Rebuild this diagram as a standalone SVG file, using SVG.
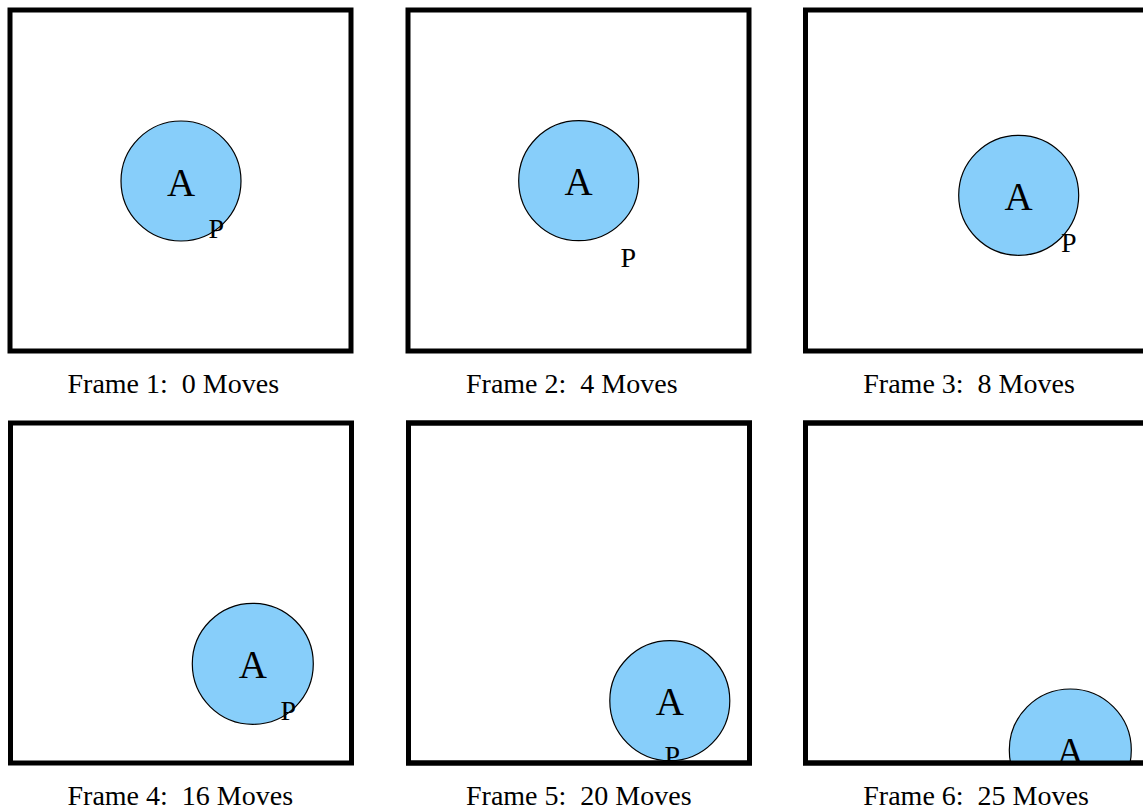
<svg xmlns="http://www.w3.org/2000/svg" width="1143" height="810" viewBox="0 0 1143 810">
<style>
.frame{fill:#fff;stroke:#000;stroke-width:5}
.ball{fill:#87cefa;stroke:#000;stroke-width:1.2}
.a{font-family:"Liberation Serif","Times New Roman",serif;font-size:39px;fill:#000;text-anchor:middle}
.p{font-family:"Liberation Serif","Times New Roman",serif;font-size:28px;fill:#000}
.lbl{font-family:"Liberation Serif","Times New Roman",serif;font-size:28px;fill:#000;white-space:pre}
</style>
<defs>
<clipPath id="c5"><rect x="408" y="423" width="341" height="340"/></clipPath>
<clipPath id="c6"><rect x="805" y="423" width="341" height="340"/></clipPath>
</defs>
<rect width="1143" height="810" fill="#fff"/>
<g id="frame1">
<rect class="frame" x="10" y="10" width="341" height="341"/>
<circle class="ball" cx="181" cy="181" r="60"/>
<text class="a" x="181" y="195.5">A</text>
<text class="p" x="208.5" y="238">P</text>
<text class="lbl" x="67.5" y="393" xml:space="preserve">Frame 1:  0 Moves</text>
</g>
<g id="frame2">
<rect class="frame" x="408" y="10" width="341" height="341"/>
<circle class="ball" cx="578.7" cy="180.7" r="60"/>
<text class="a" x="578.7" y="195.2">A</text>
<text class="p" x="620.5" y="266.5">P</text>
<text class="lbl" x="466" y="393" xml:space="preserve">Frame 2:  4 Moves</text>
</g>
<g id="frame3">
<rect class="frame" x="805.5" y="10" width="341" height="341"/>
<circle class="ball" cx="1018.7" cy="195.3" r="60"/>
<text class="a" x="1018.7" y="209.8">A</text>
<text class="p" x="1061" y="252">P</text>
<text class="lbl" x="863.3" y="393" xml:space="preserve">Frame 3:  8 Moves</text>
</g>
<g id="frame4">
<rect class="frame" x="10.5" y="423" width="341" height="340"/>
<circle class="ball" cx="252.8" cy="663.8" r="60.5"/>
<text class="a" x="252.8" y="678.3">A</text>
<text class="p" x="280.5" y="720">P</text>
<text class="lbl" x="67.5" y="805" xml:space="preserve">Frame 4:  16 Moves</text>
</g>
<g id="frame5">
<rect class="frame" x="408.5" y="423" width="341" height="340"/>
<g clip-path="url(#c5)">
<circle class="ball" cx="669.8" cy="700.7" r="60"/>
<text class="a" x="669.8" y="715.2">A</text>
<text class="p" x="664.5" y="764.5">P</text>
</g>
<rect x="408.5" y="423" width="341" height="340" fill="none" stroke="#000" stroke-width="5"/>
<text class="lbl" x="466" y="805" xml:space="preserve">Frame 5:  20 Moves</text>
</g>
<g id="frame6">
<rect class="frame" x="805.5" y="423" width="341" height="340"/>
<g clip-path="url(#c6)">
<circle class="ball" cx="1070.3" cy="750" r="61"/>
<text class="a" x="1070.3" y="764.5">A</text>
</g>
<rect x="805.5" y="423" width="341" height="340" fill="none" stroke="#000" stroke-width="5"/>
<text class="lbl" x="863.3" y="805" xml:space="preserve">Frame 6:  25 Moves</text>
</g>
<g id="connectors"/>
</svg>
